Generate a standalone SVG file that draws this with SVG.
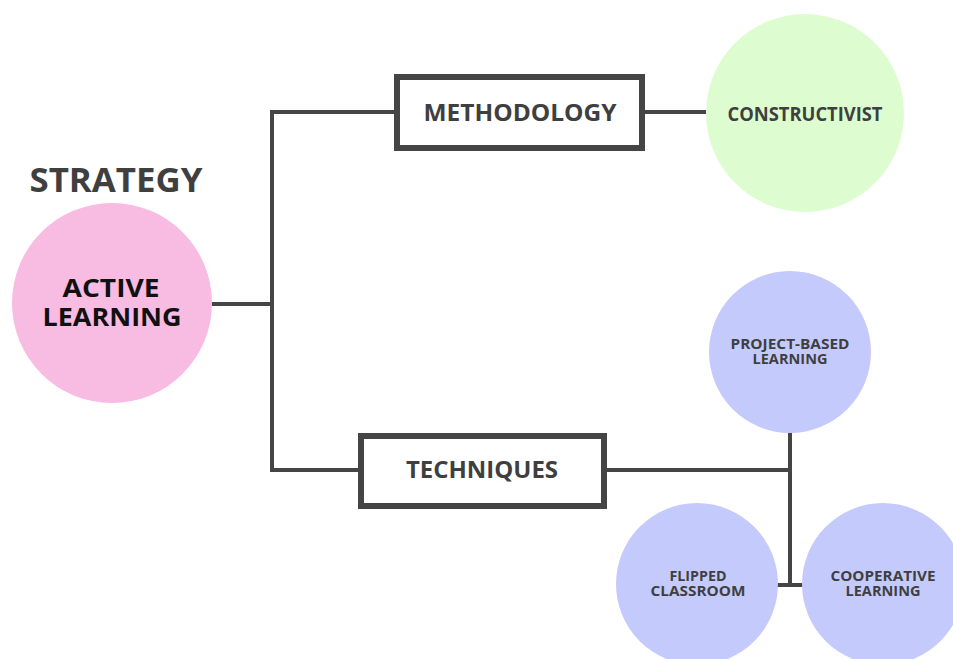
<svg xmlns="http://www.w3.org/2000/svg" width="953" height="659" viewBox="0 0 953 659">
  <style>
    .wire { stroke: #454545; stroke-width: 4; fill: none; stroke-linecap: butt; }
    .box { fill: #ffffff; stroke: #454545; stroke-width: 6; }
    .t { font-family: "Open Sans", "Liberation Sans", sans-serif; font-weight: 700; fill: #3f3f3f; text-anchor: middle; }
    .dark { fill: #111111; }
    .small { font-size: 13.5px; }
    .pink { fill: #f8bbe1; }
    .green { fill: #ddfdd1; }
    .blue { fill: #c5cafd; }
  </style>
  <rect width="953" height="659" fill="#ffffff"/>

  <!-- connectors -->
  <g id="connectors">
    <path class="wire" d="M212 304 H272"/>
    <path class="wire" d="M272 110 V472"/>
    <path class="wire" d="M272 112 H397"/>
    <path class="wire" d="M642 112 H706"/>
    <path class="wire" d="M272 470 H361"/>
    <path class="wire" d="M604 470 H790"/>
    <path class="wire" d="M790 432 V587"/>
    <path class="wire" d="M777 585 H803"/>
  </g>

  <g id="strategy-title">
    <text class="t" x="116" y="192" font-size="34" textLength="173" lengthAdjust="spacingAndGlyphs">STRATEGY</text>
  </g>

  <g id="active-learning">
    <circle class="pink" cx="112" cy="303" r="100"/>
    <text class="t dark" x="111" y="297" font-size="25" textLength="97" lengthAdjust="spacingAndGlyphs">ACTIVE</text>
    <text class="t dark" x="112" y="326" font-size="25" textLength="139" lengthAdjust="spacingAndGlyphs">LEARNING</text>
  </g>

  <g id="methodology">
    <rect class="box" x="397" y="77" width="245" height="71"/>
    <text class="t" x="520" y="121" font-size="24" textLength="193" lengthAdjust="spacingAndGlyphs">METHODOLOGY</text>
  </g>

  <g id="constructivist">
    <circle class="green" cx="805" cy="113" r="99"/>
    <text class="t" x="805" y="121" font-size="19" textLength="155" lengthAdjust="spacingAndGlyphs">CONSTRUCTIVIST</text>
  </g>

  <g id="techniques">
    <rect class="box" x="361" y="436" width="243" height="70"/>
    <text class="t" x="482" y="478" font-size="24" textLength="152" lengthAdjust="spacingAndGlyphs">TECHNIQUES</text>
  </g>

  <g id="project-based-learning">
    <circle class="blue" cx="790" cy="352" r="81"/>
    <text class="t small" x="790" y="349" textLength="119" lengthAdjust="spacingAndGlyphs">PROJECT-BASED</text>
    <text class="t small" x="790" y="364" textLength="75" lengthAdjust="spacingAndGlyphs">LEARNING</text>
  </g>

  <g id="flipped-classroom">
    <circle class="blue" cx="697" cy="584" r="81"/>
    <text class="t small" x="698" y="581" textLength="57" lengthAdjust="spacingAndGlyphs">FLIPPED</text>
    <text class="t small" x="698" y="596" textLength="95" lengthAdjust="spacingAndGlyphs">CLASSROOM</text>
  </g>

  <g id="cooperative-learning">
    <circle class="blue" cx="883" cy="584" r="81"/>
    <text class="t small" x="883" y="581" textLength="105" lengthAdjust="spacingAndGlyphs">COOPERATIVE</text>
    <text class="t small" x="883" y="596" textLength="75" lengthAdjust="spacingAndGlyphs">LEARNING</text>
  </g>
</svg>
